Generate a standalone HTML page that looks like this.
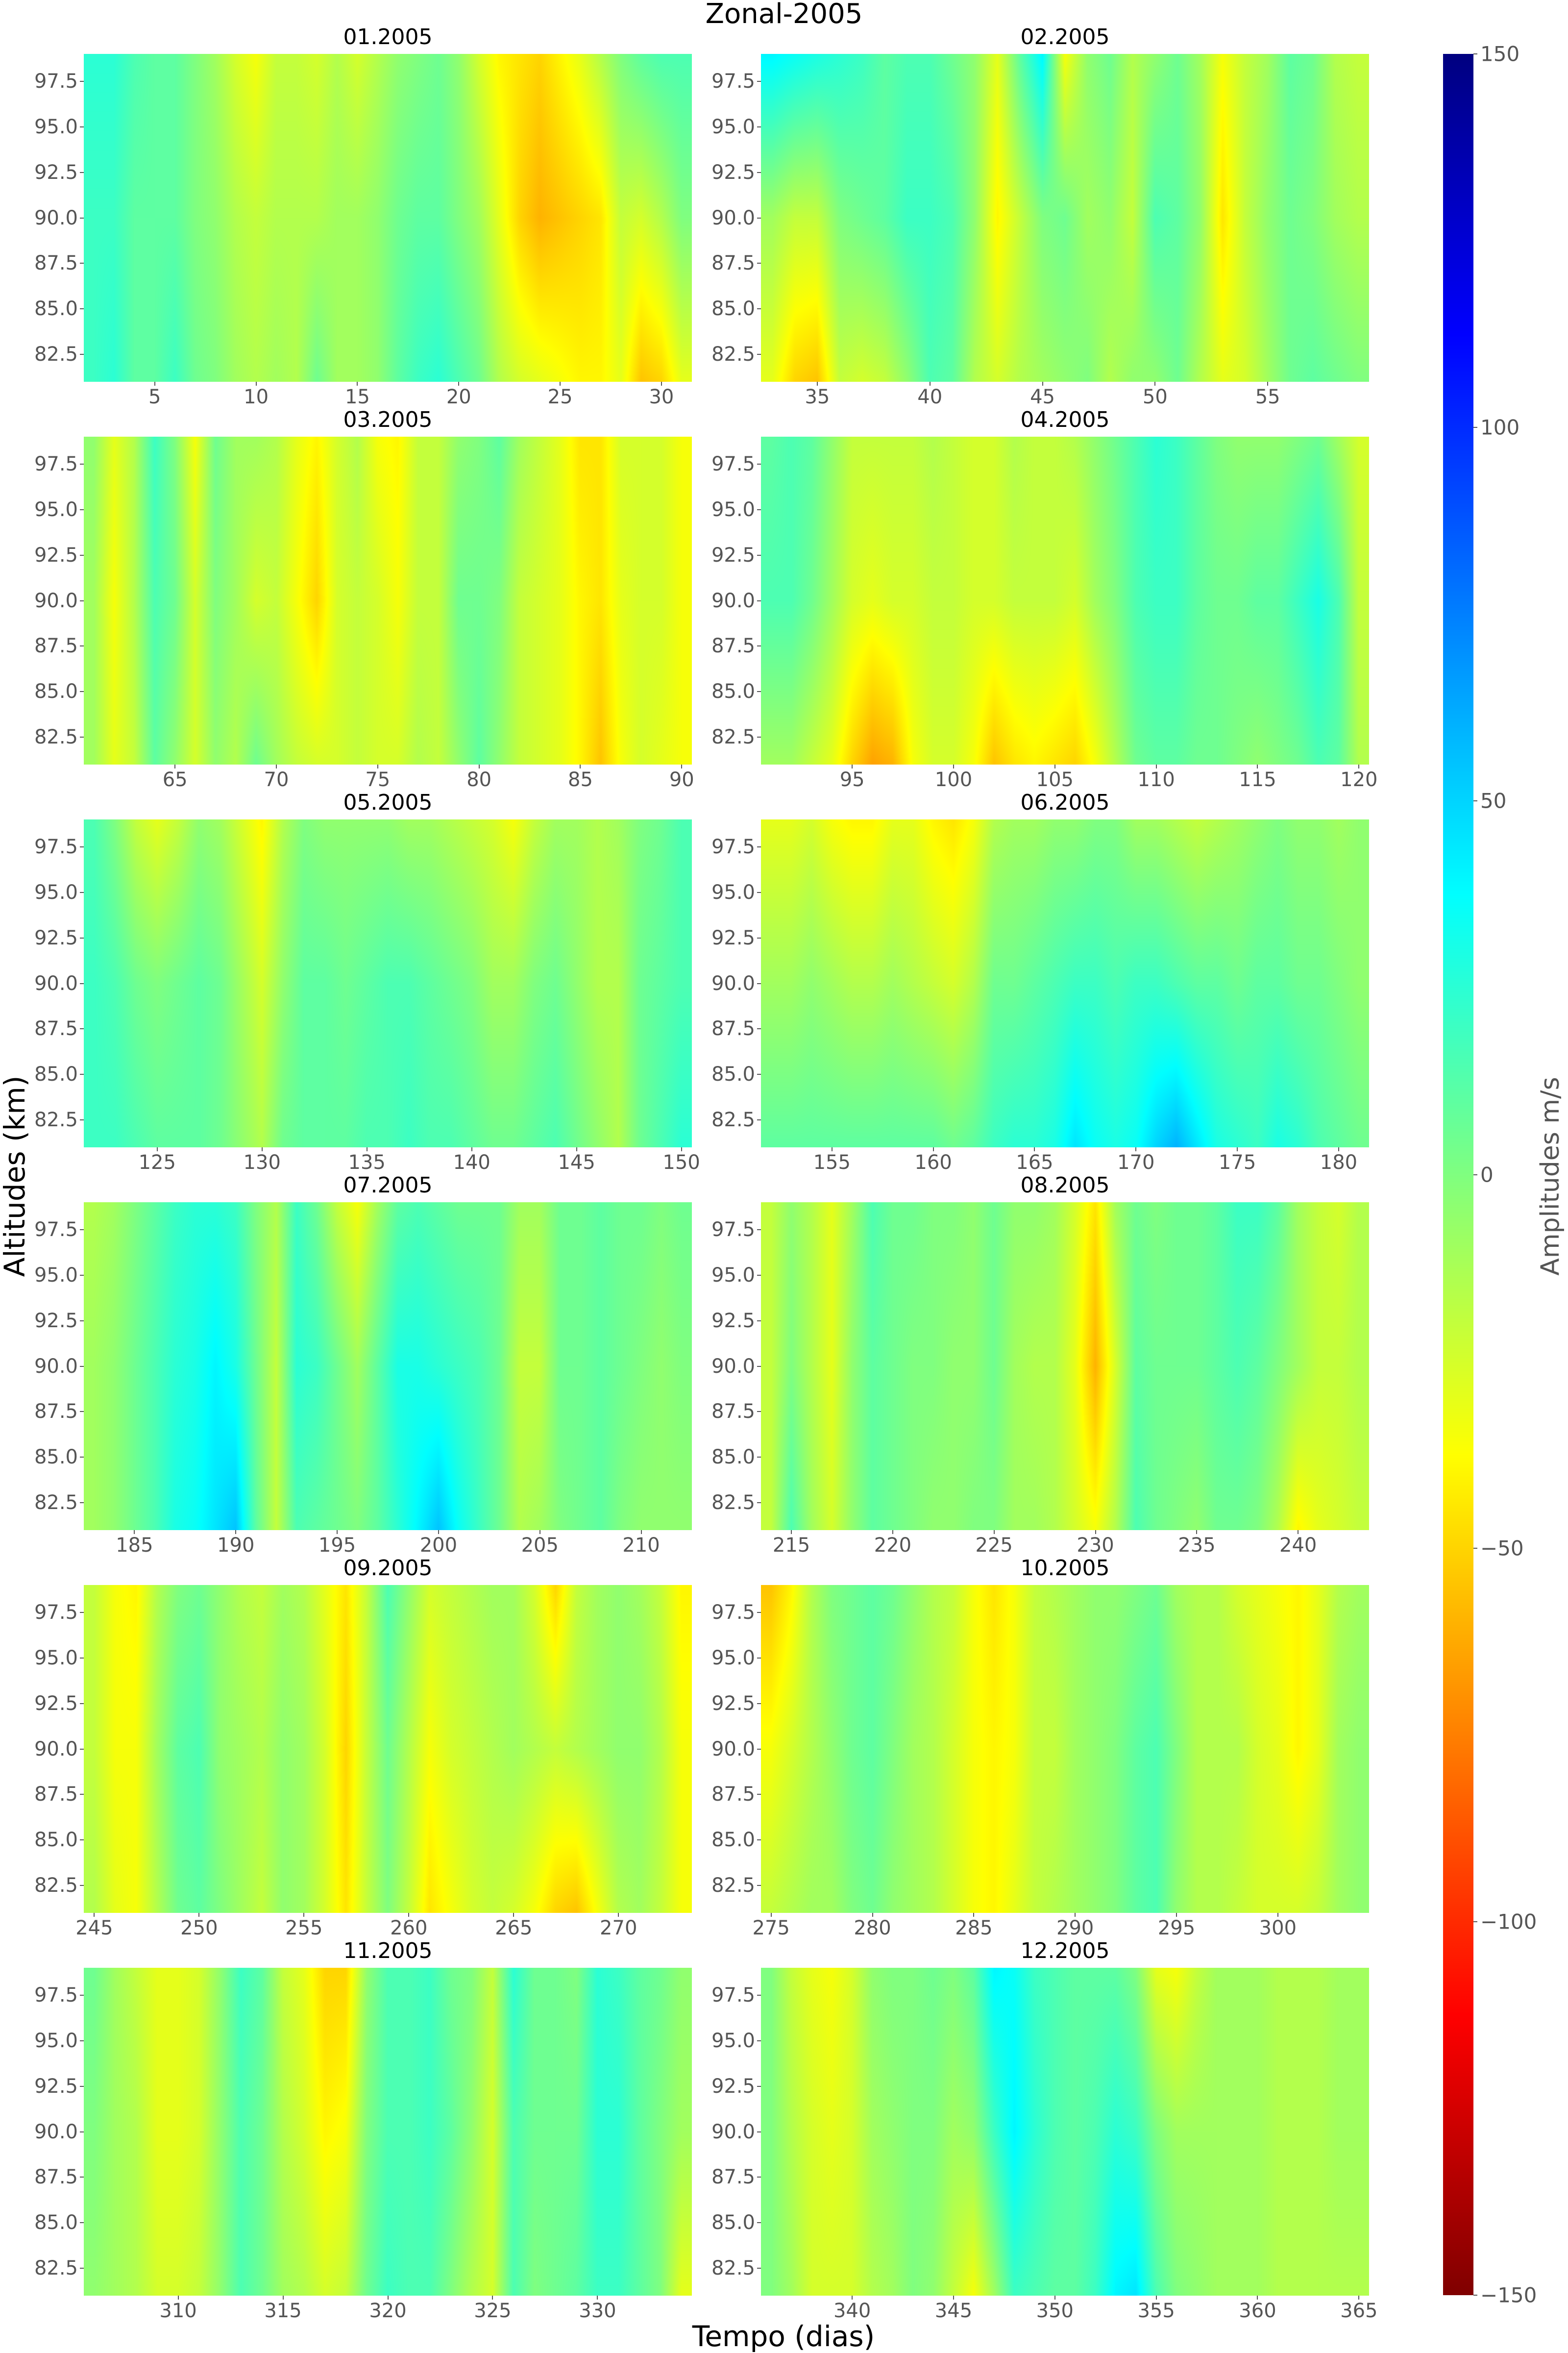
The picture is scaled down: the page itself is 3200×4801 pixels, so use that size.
<!DOCTYPE html>
<html><head><meta charset="utf-8"><style>
body{margin:0;background:#fff;width:3200px;height:4800px;position:relative;overflow:hidden;font-family:"DejaVu Sans","Liberation Sans",sans-serif}
.abs{position:absolute}
.tick{position:absolute;color:#555;font-size:40px;white-space:nowrap}
.ptitle{position:absolute;color:#000;font-size:44px;text-align:center}
canvas{position:absolute}
</style></head><body>
<div class="abs" style="left:1400px;top:-4px;width:400px;text-align:center;font-size:56px;color:#000">Zonal-2005</div>
<div class="abs" style="left:30px;top:2400px;transform:translate(-50%,-50%) rotate(-90deg);font-size:58px;color:#000;white-space:nowrap">Altitudes (km)</div>
<div class="abs" style="left:1599px;top:4767px;transform:translate(-50%,-50%);font-size:58px;color:#000;white-space:nowrap">Tempo (dias)</div>
<div id="root"></div>
<script>
const months=["01.2005","02.2005","03.2005","04.2005","05.2005","06.2005","07.2005","08.2005","09.2005","10.2005","11.2005","12.2005"];
const dayRanges=[[1.5,31.5],[32.5,59.5],[60.5,90.5],[90.5,120.5],[121.5,150.5],[151.5,181.5],[182.5,212.5],[213.5,243.5],[244.5,273.5],[274.5,304.5],[305.5,334.5],[335.5,365.5]];
const firstDays=[2,33,61,91,122,152,183,214,245,275,306,336];
const altLevels=[81,90,99];
const xTicks=[[5,10,15,20,25,30],[35,40,45,50,55],[65,70,75,80,85,90],[95,100,105,110,115,120],[125,130,135,140,145,150],[155,160,165,170,175,180],[185,190,195,200,205,210],[215,220,225,230,235,240],[245,250,255,260,265,270],[275,280,285,290,295,300],[310,315,320,325,330],[340,345,350,355,360,365]];
const yTicks=[82.5,85.0,87.5,90.0,92.5,95.0,97.5];
const cbTicks=[150,100,50,0,-50,-100,-150];
const m01=[[20,20,25],[25,20,25],[10,10,15],[10,10,10],[20,10,10],[5,0,0],[0,-5,-10],[-10,-15,-25],[-15,-20,-35],[-10,-15,-20],[-15,-15,-20],[5,-15,-25],[-10,-10,-15],[-10,-10,-25],[-5,-5,-15],[10,5,-5],[20,10,0],[25,10,5],[15,0,-5],[5,-10,-25],[-15,-30,-40],[-25,-50,-45],[-30,-60,-50],[-35,-55,-40],[-40,-50,-30],[-40,-45,-15],[-30,-20,0],[-55,-25,10],[-50,-15,15],[-30,0,15]];
const m02=[[-30,-10,40],[-50,-20,35],[-55,-20,30],[-20,0,25],[-25,5,20],[-20,10,10],[-5,20,15],[15,20,15],[10,15,5],[-15,-5,-5],[-25,-40,-30],[-15,-20,10],[-10,0,40],[-5,5,-35],[0,-10,-5],[-15,-5,5],[-5,-20,-15],[-5,15,-5],[5,10,5],[-15,-5,-10],[-30,-45,-35],[-25,-20,-20],[-10,-5,-10],[5,5,10],[10,0,5],[5,-10,-15],[0,-15,-20]];
const m03=[[-10,-10,-5],[-30,-35,-30],[-20,-15,-15],[10,15,20],[-5,5,0],[-25,-25,-35],[-5,0,5],[-15,-10,-10],[5,-25,-10],[-10,-20,-15],[-20,-35,-30],[-25,-50,-40],[-25,-25,-25],[-20,-20,-15],[-25,-25,-35],[-25,-35,-40],[-15,-20,-20],[-20,-20,-20],[-5,5,-5],[10,5,0],[-5,0,10],[-20,-20,-10],[-25,-25,-20],[-30,-30,-30],[-40,-40,-45],[-55,-45,-45],[-35,-30,-25],[-25,-25,-25],[-30,-25,-25],[-35,-35,-35]];
const m04=[[-10,15,10],[-10,15,15],[-20,5,10],[-30,-10,-5],[-50,-25,-20],[-65,-30,-20],[-60,-25,-20],[-35,-25,-20],[-25,-20,-15],[-25,-20,-20],[-35,-25,-25],[-55,-25,-25],[-45,-20,-15],[-40,-20,-20],[-45,-20,-20],[-50,-25,-15],[-35,-10,-5],[-15,0,5],[5,15,15],[10,20,25],[10,20,20],[5,10,10],[5,5,0],[0,5,-5],[-5,10,-5],[0,10,-5],[5,20,0],[15,30,5],[10,15,-10],[-15,-20,-25]];
const m05=[[20,20,15],[20,15,0],[15,5,-20],[10,0,-30],[10,5,-20],[10,10,-5],[5,5,-10],[-5,-10,-25],[-15,-25,-40],[5,-5,-15],[10,10,0],[10,10,-5],[10,5,-5],[15,10,-5],[15,15,-5],[20,15,-10],[15,10,-10],[15,5,-15],[10,0,-20],[5,-10,-25],[5,-10,-35],[10,0,-20],[15,5,-10],[5,-5,-10],[-5,-15,-15],[-15,-15,-10],[5,5,0],[15,10,5],[25,15,15]];
const m06=[[10,-10,-30],[10,-10,-30],[10,-5,-25],[10,-10,-35],[10,-15,-40],[10,-15,-40],[10,-10,-30],[10,-15,-30],[10,-20,-40],[5,-25,-45],[10,-15,-35],[20,5,-15],[25,5,-10],[25,10,-10],[30,15,-5],[45,20,-5],[35,20,0],[30,15,0],[35,20,-10],[50,20,-10],[60,15,-15],[45,10,-20],[30,10,-15],[25,5,-10],[20,10,-5],[30,10,0],[25,5,-5],[15,5,-5],[10,0,-10],[5,-5,-5]];
const m07=[[-10,-10,-15],[-5,-5,-10],[5,5,0],[15,15,10],[30,25,20],[35,30,25],[45,40,25],[55,30,20],[10,5,0],[-20,-20,-15],[15,25,20],[10,20,5],[5,5,-20],[0,-10,-35],[10,10,-10],[25,30,10],[40,30,15],[55,25,10],[35,20,5],[20,15,5],[5,5,5],[-15,-20,-10],[-10,-20,-10],[0,5,5],[5,5,5],[10,10,10],[0,5,5],[-5,0,5],[-5,-5,0],[-5,0,5]];
const m08=[[-20,-20,-20],[15,0,-5],[-10,-15,-15],[-25,-30,-30],[-5,-5,-10],[10,10,15],[5,5,5],[0,0,5],[-5,0,0],[-5,-5,0],[0,-5,-5],[0,5,5],[-10,-10,-5],[-10,-15,-5],[-15,-15,-10],[-25,-30,-25],[-35,-60,-45],[-15,-25,-10],[15,10,5],[5,5,0],[0,5,5],[-5,5,5],[5,10,10],[5,15,20],[0,10,20],[-15,0,10],[-40,-10,-10],[-30,-20,-20],[-25,-20,-25],[-20,-15,-15]];
const m09=[[-15,-20,-20],[-30,-35,-35],[-35,-35,-40],[-15,-10,-15],[5,10,0],[10,15,5],[0,-5,-5],[-10,-10,-15],[-20,-15,-20],[-5,-5,-10],[-10,-10,-15],[-25,-25,-30],[-45,-50,-45],[-20,-20,-20],[0,5,15],[-20,-15,-5],[-45,-35,-25],[-35,-25,-20],[-25,-20,-15],[-20,-15,-10],[-25,-10,-10],[-35,-15,-25],[-50,-20,-50],[-55,-15,-20],[-35,-10,-10],[-15,-5,-5],[-10,-5,-10],[-20,-15,-20],[-35,-35,-40]];
const m10=[[-20,-35,-55],[-15,-25,-40],[-10,-15,-15],[-10,-5,0],[0,5,5],[5,10,10],[-5,0,5],[-10,-10,-5],[-15,-15,-15],[-25,-25,-20],[-35,-35,-35],[-40,-40,-45],[-30,-35,-35],[-20,-20,-20],[-15,-20,-15],[-10,-10,-10],[-5,-5,-5],[0,0,-5],[10,10,0],[15,15,5],[-5,0,-10],[-15,-15,-15],[-15,-15,-15],[-20,-15,-25],[-25,-25,-30],[-25,-30,-35],[-25,-40,-40],[-20,-30,-30],[-10,-10,-15],[-5,-5,-10]];
const m11=[[-5,0,5],[-10,-10,-10],[-15,-15,-20],[-25,-30,-30],[-25,-30,-30],[-20,-25,-25],[-5,-5,-5],[15,15,20],[5,5,10],[-10,-15,-20],[-15,-25,-30],[-25,-40,-50],[-20,-35,-50],[5,0,-5],[20,15,15],[15,15,15],[15,20,20],[0,10,5],[-15,-5,0],[-25,-25,-20],[15,15,25],[0,5,5],[5,5,5],[10,5,0],[20,25,25],[20,25,20],[10,10,10],[0,0,5],[-30,-10,-5]];
const m12=[[0,0,0],[-10,-15,-20],[-25,-25,-30],[-25,-30,-35],[-25,-25,-25],[-15,-10,-5],[-10,-5,0],[0,0,0],[-5,0,5],[-20,-10,0],[-35,-5,10],[-10,20,40],[20,40,35],[15,25,20],[10,15,15],[10,10,10],[20,15,10],[40,25,10],[45,20,0],[15,0,-30],[0,-10,-35],[-5,-10,-20],[-10,-10,-10],[-10,-10,-10],[-10,-10,-10],[-15,-15,-15],[-15,-15,-15],[-15,-15,-15],[-15,-10,-10],[-15,-10,-10]];
const monthData=[m01,m02,m03,m04,m05,m06,m07,m08,m09,m10,m11,m12];
const VMIN=-150,VMAX=150,ALT0=81,ALT1=99;

function clamp(v){return v<0?0:v>1?1:v;}
function jetR(v){const t=1-(v-VMIN)/(VMAX-VMIN);
 return [clamp(1.5-Math.abs(4*t-3))*255,clamp(1.5-Math.abs(4*t-2))*255,clamp(1.5-Math.abs(4*t-1))*255];}
function valueAt(data,f0,day,alt){
 let fi=day-f0; if(fi<0)fi=0; if(fi>data.length-1)fi=data.length-1;
 const i0=Math.floor(fi),i1=Math.min(i0+1,data.length-1),fx=fi-i0;
 let ai=(alt-altLevels[0])/(altLevels[1]-altLevels[0]); if(ai<0)ai=0; if(ai>2)ai=2;
 const a0=Math.min(Math.floor(ai),1),fa=ai-a0;
 const col=(r)=>r[a0]*(1-fa)+r[a0+1]*fa;
 return col(data[i0])*(1-fx)+col(data[i1])*fx;}

const root=document.getElementById('root');
const colsX=[171,1553],W=1241,H=669,ROW0=110,PITCH=781;
function mk(tag,cls,style,text){const e=document.createElement(tag);if(cls)e.className=cls;if(style)e.style.cssText=style;if(text!==undefined)e.textContent=text;root.appendChild(e);return e;}
for(let m=0;m<12;m++){
 const px=colsX[m%2],py=ROW0+Math.floor(m/2)*PITCH;
 const [d0,d1]=dayRanges[m];
 const xs=d=>px+(d-d0)/(d1-d0)*W;
 const ys=a=>py+(ALT1-a)/(ALT1-ALT0)*H;
 const c=mk('canvas','',`left:${px}px;top:${py}px;width:${W}px;height:${H}px`);
 
 
 c.width=W;c.height=H;const ctx=c.getContext('2d');const img=ctx.createImageData(W,H);
 for(let y=0;y<H;y++){const alt=ALT1-(y+0.5)/H*(ALT1-ALT0);
  for(let x=0;x<W;x++){const day=d0+(x+0.5)/W*(d1-d0);
   const col=jetR(valueAt(monthData[m],firstDays[m],day,alt));const k=(y*W+x)*4;
   img.data[k]=col[0];img.data[k+1]=col[1];img.data[k+2]=col[2];img.data[k+3]=255;}}
 ctx.putImageData(img,0,0);
 const t=mk('div','ptitle',`left:${px}px;top:${py-60}px;width:${W}px`,months[m]);
 
 
 xTicks[m].forEach(v=>{const e=mk('div','tick',`left:${xs(v)}px;top:${py+H+8}px;transform:translateX(-50%)`,String(v));
  
  
  const tm=mk('div','',`position:absolute;left:${xs(v)-1}px;top:${py+H}px;width:2px;height:8px;background:#555`);
  
  });
 yTicks.forEach(v=>{const e=mk('div','tick',`right:${3200-px+12}px;top:${ys(v)}px;transform:translateY(-50%)`,v.toFixed(1));
  
  
  const tm=mk('div','',`position:absolute;left:${px-8}px;top:${ys(v)-1}px;width:8px;height:2px;background:#555`);
  
  });
}
const CBX=2945,CBY=110,CBW=62,CBH=4573;
const cb=mk('canvas','',`left:${CBX}px;top:${CBY}px;width:${CBW}px;height:${CBH}px`);


cb.width=1;cb.height=CBH;{const ctx=cb.getContext('2d');const img=ctx.createImageData(1,CBH);
 for(let y=0;y<CBH;y++){const v=VMAX-(y+0.5)/CBH*(VMAX-VMIN);const col=jetR(v);img.data[y*4]=col[0];img.data[y*4+1]=col[1];img.data[y*4+2]=col[2];img.data[y*4+3]=255;}
 ctx.putImageData(img,0,0);}
cbTicks.forEach(v=>{const y=CBY+(VMAX-v)/(VMAX-VMIN)*CBH;
 const e=mk('div','tick',`left:${CBX+CBW+14}px;top:${y}px;transform:translateY(-50%);font-size:42px`,v<0?'\u2212'+Math.abs(v):String(v));
 
 
 const tm=mk('div','',`position:absolute;left:${CBX+CBW}px;top:${y-1}px;width:8px;height:2px;background:#555`);
 
 });
const lbl=mk('div','',`position:absolute;left:3164px;top:2400px;transform:translate(-50%,-50%) rotate(-90deg);font-size:52px;color:#555;white-space:nowrap`,'Amplitudes m/s');


</script>
</body></html>
